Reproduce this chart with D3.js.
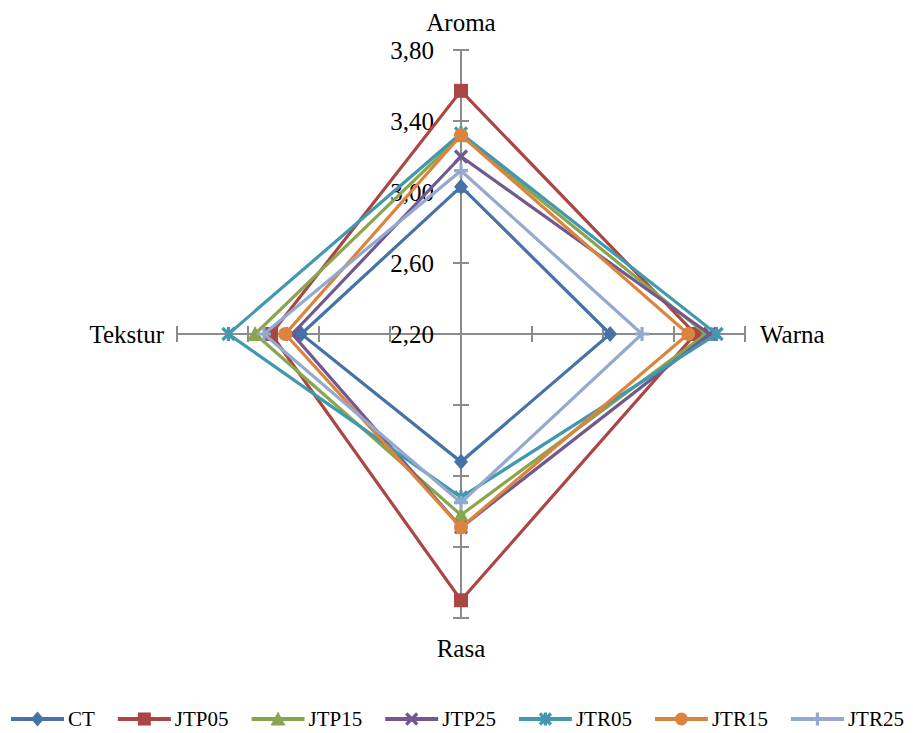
<!DOCTYPE html>
<html>
<head>
<meta charset="utf-8">
<script src="https://cdn.jsdelivr.net/npm/d3@7"></script>
<style>
  html, body { margin: 0; padding: 0; background: #fff; }
</style>
</head>
<body>
<svg id="chart" width="913" height="733"></svg>
<script>
// Radar axes (clockwise from top) and tick values
const axes = ["Aroma", "Warna", "Rasa", "Tekstur"];
const tickValues = [2.20, 2.60, 3.00, 3.40, 3.80];

// Sensory scores per sample, in axis order: Aroma, Warna, Rasa, Tekstur
const CT    = [3.03, 3.04, 2.92, 3.10];
const JTP05 = [3.57, 3.52, 3.70, 3.27];
const JTP15 = [3.32, 3.58, 3.22, 3.36];
const JTP25 = [3.20, 3.60, 3.29, 3.15];
const JTR05 = [3.33, 3.64, 3.12, 3.51];
const JTR15 = [3.32, 3.48, 3.29, 3.19];
const JTR25 = [3.12, 3.22, 3.15, 3.31];

const seriesNames = ["CT", "JTP05", "JTP15", "JTP25", "JTR05", "JTR15", "JTR25"];
const seriesValues = [CT, JTP05, JTP15, JTP25, JTR05, JTR15, JTR25];
const colors = ["#4572A7", "#AA4643", "#89A54E", "#71588F", "#4198AF", "#DB843D", "#93A9CF"];
const markers = ["diamond", "square", "triangle", "x", "star", "circle", "plus"];

const FONT = '"Liberation Serif", "Times New Roman", Times, serif';

const svg = d3.select("#chart");
const cx = 461, cy = 334, R = 284;

const r = d3.scaleLinear().domain([2.2, 3.8]).range([0, R]);
const angle = d3.scalePoint().domain(axes).range([0, 2 * Math.PI * 3 / 4]);

const pt = (axis, v) => {
  const a = angle(axis);
  return [cx + r(v) * Math.sin(a), cy - r(v) * Math.cos(a)];
};

// Axes with cross ticks
const gAxes = svg.append("g").attr("stroke", "#8c8c8c").attr("stroke-width", 2);
axes.forEach(ax => {
  const a = angle(ax);
  const end = pt(ax, 3.8);
  gAxes.append("line").attr("x1", cx).attr("y1", cy).attr("x2", end[0]).attr("y2", end[1]);
  tickValues.slice(1).forEach(t => {
    const p = pt(ax, t);
    const dx = Math.cos(a) * 8, dy = Math.sin(a) * 8;
    gAxes.append("line")
      .attr("x1", p[0] - dx).attr("y1", p[1] - dy)
      .attr("x2", p[0] + dx).attr("y2", p[1] + dy);
  });
});

// Tick labels along the Aroma axis
svg.append("g").selectAll("text").data(tickValues).join("text")
  .attr("x", cx - 27)
  .attr("y", d => pt("Aroma", d)[1])
  .attr("dy", "0.35em")
  .attr("text-anchor", "end")
  .style("font-family", FONT)
  .attr("font-size", 25)
  .attr("fill", "#000")
  .text(d => d3.format(".2f")(d).replace(".", ","));

// Axis names
const labelPos = {
  Aroma:   { x: cx, y: 22, anchor: "middle" },
  Warna:   { x: cx + R + 15, y: cy, anchor: "start" },
  Rasa:    { x: cx, y: 648, anchor: "middle" },
  Tekstur: { x: cx - R - 13, y: cy, anchor: "end" }
};
svg.append("g").selectAll("text").data(axes).join("text")
  .attr("x", d => labelPos[d].x)
  .attr("y", d => labelPos[d].y)
  .attr("dy", "0.35em")
  .attr("text-anchor", d => labelPos[d].anchor)
  .style("font-family", FONT)
  .attr("font-size", 25)
  .attr("fill", "#000")
  .text(d => d);

// Marker shapes
function drawMarker(g, type, x, y, color, s) {
  s = s || 7;
  switch (type) {
    case "diamond":
      g.append("path").attr("d", `M${x},${y - s - 1}L${x + s},${y}L${x},${y + s + 1}L${x - s},${y}Z`).attr("fill", color);
      break;
    case "square":
      g.append("rect").attr("x", x - s).attr("y", y - s).attr("width", 2 * s).attr("height", 2 * s).attr("fill", color);
      break;
    case "triangle":
      g.append("path").attr("d", `M${x},${y - s - 1}L${x + s + 1},${y + s}L${x - s - 1},${y + s}Z`).attr("fill", color);
      break;
    case "circle":
      g.append("circle").attr("cx", x).attr("cy", y).attr("r", s).attr("fill", color);
      break;
    case "x":
      g.append("path").attr("d", `M${x - s + 1},${y - s + 1}L${x + s - 1},${y + s - 1}M${x - s + 1},${y + s - 1}L${x + s - 1},${y - s + 1}`)
        .attr("stroke", color).attr("stroke-width", 3.2).attr("fill", "none");
      break;
    case "star":
      g.append("path").attr("d", `M${x - s + 1},${y - s + 1}L${x + s - 1},${y + s - 1}M${x - s + 1},${y + s - 1}L${x + s - 1},${y - s + 1}M${x},${y - s}L${x},${y + s}`)
        .attr("stroke", color).attr("stroke-width", 3.2).attr("fill", "none");
      break;
    case "plus":
      g.append("path").attr("d", `M${x - s},${y}L${x + s},${y}M${x},${y - s}L${x},${y + s}`)
        .attr("stroke", color).attr("stroke-width", 3.2).attr("fill", "none");
      break;
  }
}

// Series polygons
const radial = d3.lineRadial()
  .angle((d, i) => angle(axes[i]))
  .radius(d => r(d))
  .curve(d3.curveLinearClosed);

const gSeries = svg.append("g");
seriesValues.forEach((vals, si) => {
  const g = gSeries.append("g");
  g.append("path")
    .attr("transform", `translate(${cx},${cy})`)
    .attr("d", radial(vals))
    .attr("fill", "none")
    .attr("stroke", colors[si])
    .attr("stroke-width", 3.2)
    .attr("stroke-linejoin", "miter");
  vals.forEach((v, i) => {
    const p = pt(axes[i], v);
    drawMarker(g, markers[si], p[0], p[1], colors[si]);
  });
});

// Legend
const legend = svg.append("g");
const ly = 719;
let lx = 11;
seriesNames.forEach((name, si) => {
  const g = legend.append("g");
  g.append("line").attr("x1", lx).attr("y1", ly).attr("x2", lx + 53).attr("y2", ly)
    .attr("stroke", colors[si]).attr("stroke-width", 4);
  drawMarker(g, markers[si], lx + 26.5, ly, colors[si], 6.5);
  const t = g.append("text").attr("x", lx + 57).attr("y", ly).attr("dy", "0.35em")
    .style("font-family", FONT)
    .attr("font-size", 21).attr("fill", "#000").text(name);
  lx += 57 + t.node().getComputedTextLength() + 23;
});
</script>
</body>
</html>
